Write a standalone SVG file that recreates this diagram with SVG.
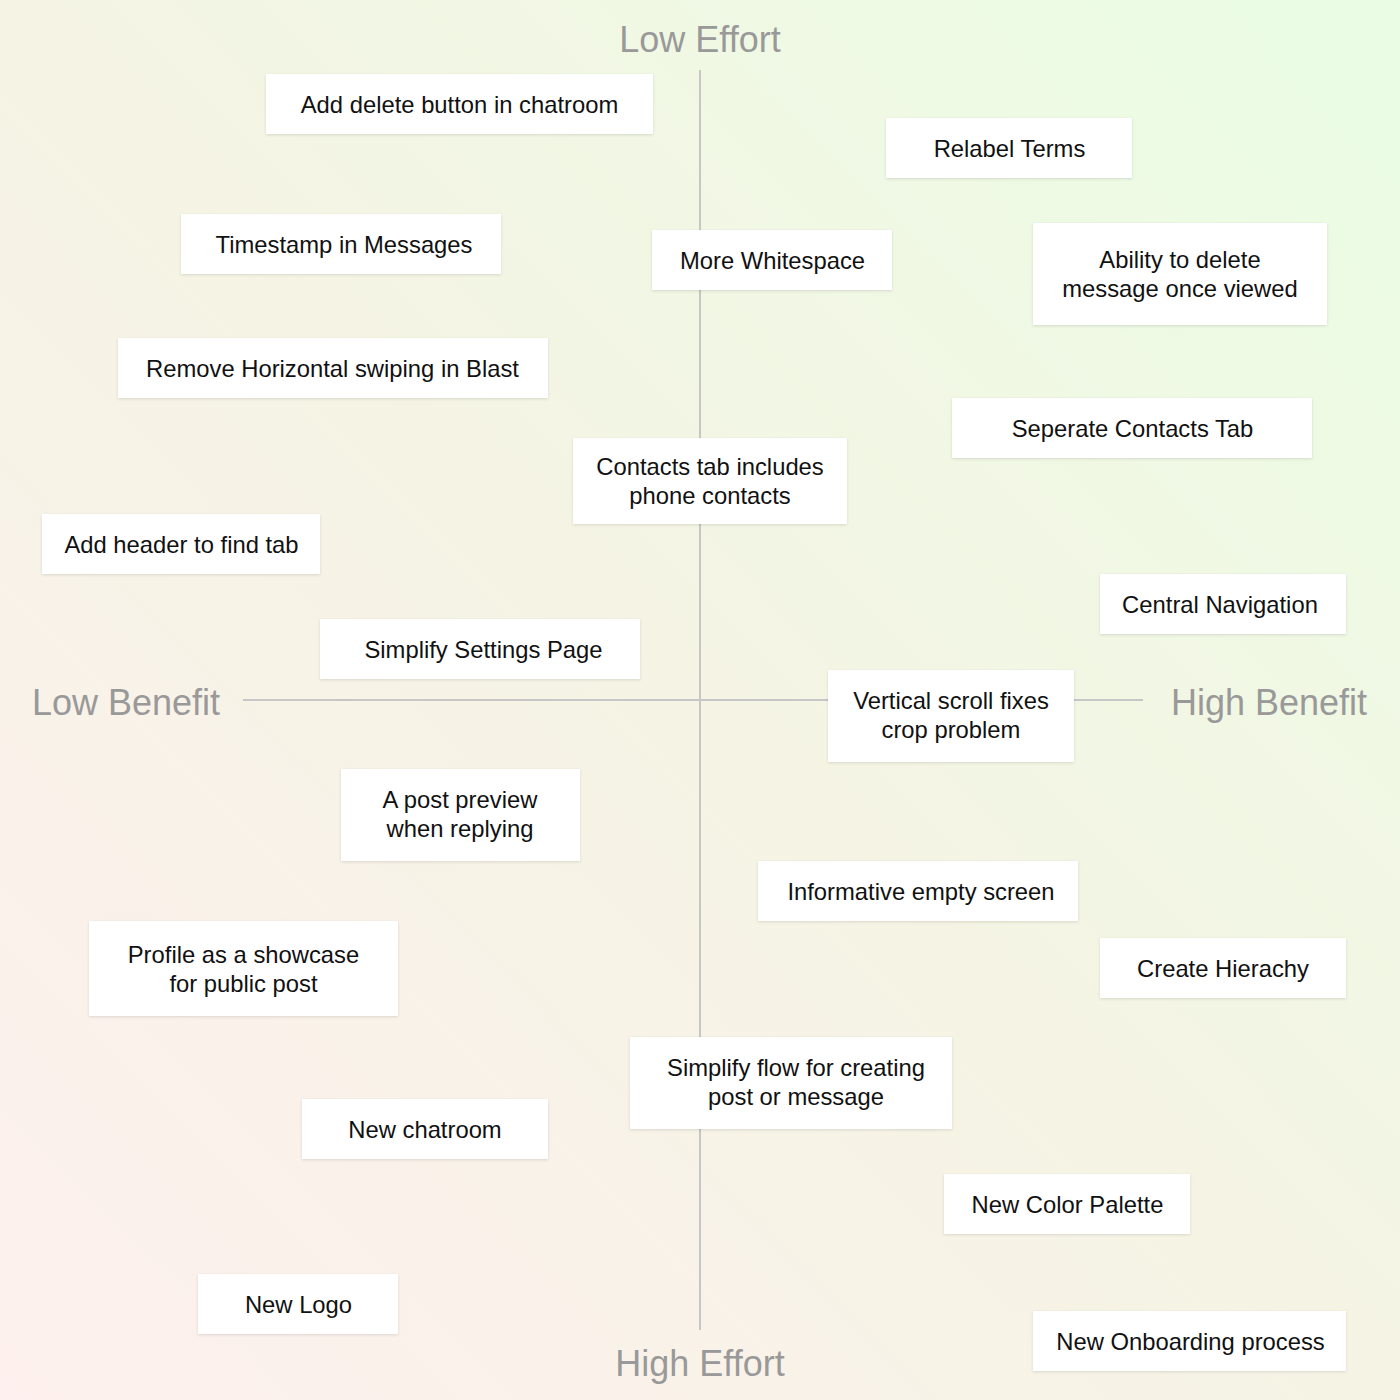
<svg xmlns="http://www.w3.org/2000/svg" width="1400" height="1400" viewBox="0 0 1400 1400">
<defs>
<linearGradient id="bg" x1="0" y1="1400" x2="1400" y2="0" gradientUnits="userSpaceOnUse">
<stop offset="0" stop-color="#fdf0ee"/>
<stop offset="0.5" stop-color="#f5f4e4"/>
<stop offset="1" stop-color="#eafde4"/>
</linearGradient>
<filter id="sh" x="-10%" y="-20%" width="120%" height="150%">
<feDropShadow dx="0" dy="1" stdDeviation="1.5" flood-color="#000" flood-opacity="0.12"/>
</filter>
</defs>
<style>
.box{fill:#fff;filter:url(#sh)}
.t{font-family:"Liberation Sans",Arial,sans-serif;font-size:23.8px;fill:#111;text-anchor:middle}
.ax{font-family:"Liberation Sans",Arial,sans-serif;font-size:36px;fill:#999;text-anchor:middle}
.axis{stroke:#c6c6c6;stroke-width:2;fill:none}
</style>
<rect width="1400" height="1400" fill="url(#bg)"/>
<g id="connectors">
<line class="axis" x1="700" y1="70" x2="700" y2="1330"/>
<line class="axis" x1="243" y1="700" x2="1143" y2="700"/>
</g>
<g id="labels">
<text class="ax" x="700" y="52">Low Effort</text>
<text class="ax" x="700" y="1376">High Effort</text>
<text class="ax" x="126" y="715">Low Benefit</text>
<text class="ax" x="1269" y="715">High Benefit</text>
</g>
<g id="n1"><rect class="box" x="266" y="74" width="387" height="60"/><text class="t" x="459.5" y="113">Add delete button in chatroom</text></g>
<g id="n2"><rect class="box" x="886" y="118" width="246" height="60"/><text class="t" x="1009.5" y="157">Relabel Terms</text></g>
<g id="n3"><rect class="box" x="181" y="214" width="320" height="60"/><text class="t" x="344" y="253">Timestamp in Messages</text></g>
<g id="n4"><rect class="box" x="652" y="230" width="240" height="60"/><text class="t" x="772.5" y="269">More Whitespace</text></g>
<g id="n5"><rect class="box" x="1033" y="223" width="294" height="102"/><text class="t" x="1180" y="268">Ability to delete</text><text class="t" x="1180" y="297">message once viewed</text></g>
<g id="n6"><rect class="box" x="118" y="338" width="430" height="60"/><text class="t" x="332.5" y="377">Remove Horizontal swiping in Blast</text></g>
<g id="n7"><rect class="box" x="952" y="398" width="360" height="60"/><text class="t" x="1132.5" y="437">Seperate Contacts Tab</text></g>
<g id="n8"><rect class="box" x="573" y="438" width="274" height="86"/><text class="t" x="710" y="475">Contacts tab includes</text><text class="t" x="710" y="504">phone contacts</text></g>
<g id="n9"><rect class="box" x="42" y="514" width="278" height="60"/><text class="t" x="181.5" y="553">Add header to find tab</text></g>
<g id="n10"><rect class="box" x="1100" y="574" width="246" height="60"/><text class="t" x="1220" y="613">Central Navigation</text></g>
<g id="n11"><rect class="box" x="320" y="619" width="320" height="60"/><text class="t" x="483.5" y="658">Simplify Settings Page</text></g>
<g id="n12"><rect class="box" x="828" y="670" width="246" height="92"/><text class="t" x="951" y="709">Vertical scroll fixes</text><text class="t" x="951" y="738">crop problem</text></g>
<g id="n13"><rect class="box" x="341" y="769" width="239" height="92"/><text class="t" x="460" y="808">A post preview</text><text class="t" x="460" y="837">when replying</text></g>
<g id="n14"><rect class="box" x="758" y="861" width="320" height="60"/><text class="t" x="921" y="900">Informative empty screen</text></g>
<g id="n15"><rect class="box" x="89" y="921" width="309" height="95"/><text class="t" x="243.5" y="963">Profile as a showcase</text><text class="t" x="243.5" y="992">for public post</text></g>
<g id="n16"><rect class="box" x="1100" y="938" width="246" height="60"/><text class="t" x="1223" y="977">Create Hierachy</text></g>
<g id="n17"><rect class="box" x="630" y="1037" width="322" height="92"/><text class="t" x="796" y="1076">Simplify flow for creating</text><text class="t" x="796" y="1105">post or message</text></g>
<g id="n18"><rect class="box" x="302" y="1099" width="246" height="60"/><text class="t" x="425" y="1138">New chatroom</text></g>
<g id="n19"><rect class="box" x="944" y="1174" width="246" height="60"/><text class="t" x="1067.5" y="1213">New Color Palette</text></g>
<g id="n20"><rect class="box" x="198" y="1274" width="200" height="60"/><text class="t" x="298.5" y="1313">New Logo</text></g>
<g id="n21"><rect class="box" x="1033" y="1311" width="313" height="60"/><text class="t" x="1190.5" y="1350">New Onboarding process</text></g>
</svg>
